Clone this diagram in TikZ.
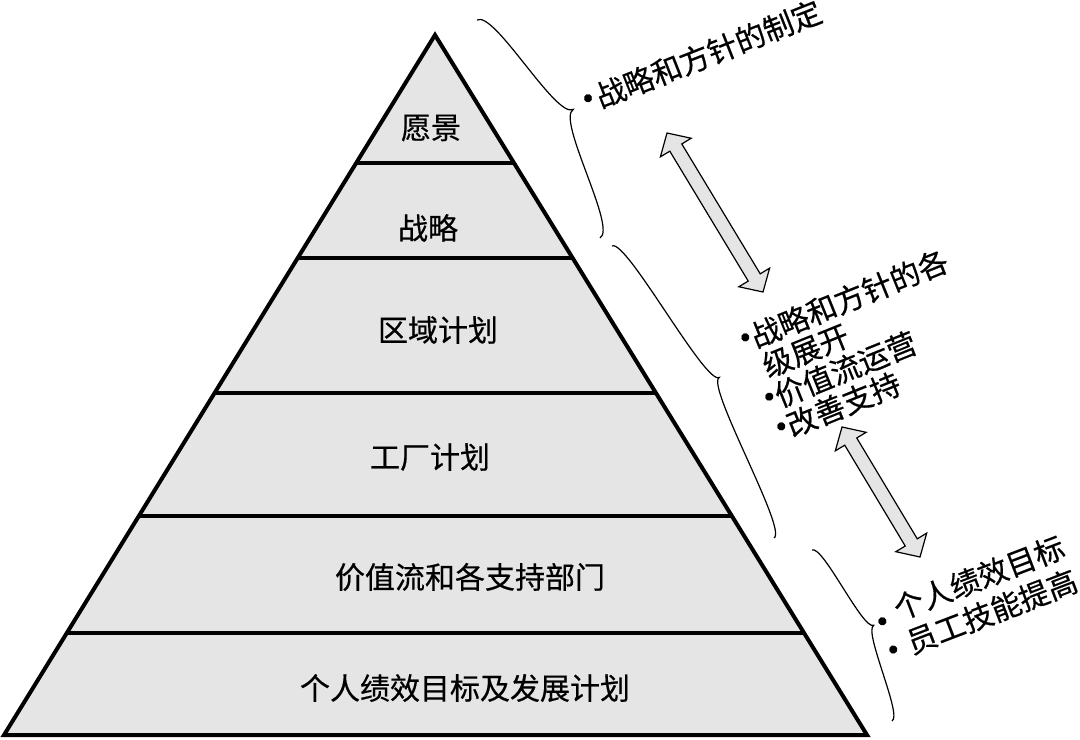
\documentclass[tikz,border=0pt]{standalone}
\usepackage{fontspec}
\setmainfont{Noto Sans CJK SC}[FakeBold=0.5]
\usetikzlibrary{calc}
\tikzset{
  pyr/.style={fill=gray!20, draw=black, line width=2pt, line join=miter},
  pyrline/.style={draw=black, line width=2pt},
  lbl/.style={font=\fontsize{15pt}{16pt}\selectfont, inner sep=0pt},
  rot/.style={font=\fontsize{15pt}{16pt}\selectfont, inner sep=0pt, align=left},
  bracestyle/.style={draw=black, line width=0.6pt},
  arrowstyle/.style={draw=black, fill=gray!20, line width=0.6pt, line join=miter}
}
\newcommand\bul{\makebox[0.4em][c]{\scalebox{1.25}{•}}}
\newcommand\bula{\makebox[0.55em][c]{\scalebox{1.25}{•}}}
\newcommand\bulw{\makebox[1.05em][c]{\scalebox{1.25}{•}}}
% #1 start, #2 end, #3 amplitude, #4 amplitude minus bend, #5 bend
\newcommand\mybrace[5]{%
  \coordinate (bm) at ($(#1)!0.5!(#2)$);
  \draw[bracestyle] (#1) .. controls ($(#1)!#5!90:(#2)$) and ($(bm)!#4!90:(#2)$) .. ($(bm)!#3!90:(#2)$)
     .. controls ($(bm)!#4!90:(#2)$) and ($(#2)!#5!-90:(#1)$) .. (#2);
}
\newcommand\dblarr[2]{%
  \coordinate (hA) at ($(#1)!8.5pt!(#2)$);
  \coordinate (hB) at ($(#2)!8.5pt!(#1)$);
  \draw[arrowstyle] (#1) -- ($(hA)!9pt!90:(#1)$) -- ($(hA)!3.5pt!90:(#1)$)
     -- ($(hB)!3.5pt!-90:(#2)$) -- ($(hB)!9pt!-90:(#2)$) -- (#2)
     -- ($(hB)!9pt!90:(#2)$) -- ($(hB)!3.5pt!90:(#2)$)
     -- ($(hA)!3.5pt!-90:(#1)$) -- ($(hA)!9pt!-90:(#1)$) -- cycle;
}
\begin{document}
\begin{tikzpicture}[x=0.5pt, y=-0.5pt]
\useasboundingbox (0,0) rectangle (1080,739);
% pyramid
\coordinate (apex) at (435,35);
\coordinate (bl) at (4,735);
\coordinate (br) at (867,735);
\draw[pyr] (apex) -- (bl) -- (br) -- cycle;
\foreach \t in {0.1829,0.3186,0.5114,0.6871,0.8543}
  \draw[pyrline] ($(apex)!\t!(bl)$) -- ($(apex)!\t!(br)$);
% level labels
\node[lbl] (l1) at (431,128) {愿景};
\node[lbl] (l2) at (428,228) {战略};
\node[lbl] (l3) at (438,330) {区域计划};
\node[lbl] (l4) at (430,457) {工厂计划};
\node[lbl] (l5) at (470,577) {价值流和各支持部门};
\node[lbl] (l6) at (465,688) {个人绩效目标及发展计划};
% braces
\coordinate (b1s) at (477,20);  \coordinate (b1e) at (600,238);
\coordinate (b2s) at (612,246); \coordinate (b2e) at (774,538);
\coordinate (b3s) at (812,550); \coordinate (b3e) at (892,721);
\mybrace{b1s}{b1e}{20pt}{10pt}{10pt}
\mybrace{b2s}{b2e}{15pt}{7pt}{8pt}
\mybrace{b3s}{b3e}{12pt}{6pt}{6pt}
% arrows
\coordinate (a1s) at (667,133); \coordinate (a1e) at (763,292);
\coordinate (a2s) at (842,427); \coordinate (a2e) at (920,557);
\dblarr{a1s}{a1e}
\dblarr{a2s}{a2e}
% rotated texts
\node[rot, rotate=21.5, anchor=west] (t1) at (581,104) {\bula 战略和方针的制定};
\node[rot, rotate=22, anchor=north west, font=\fontsize{15pt}{16pt}\selectfont] (t2) at (735,329) {\bul 战略和方针的各\\\phantom{\bul}级展开\\\bul 价值流运营\\\bul 改善支持};
\node[rot, rotate=21, anchor=north west, font=\fontsize{15pt}{15.5pt}\selectfont] (t3) at (860,608) {\raisebox{-0.3em}{\bulw}个人绩效目标\\\raisebox{-0.1em}{\bulw}员工技能提高};
\end{tikzpicture}
\end{document}
